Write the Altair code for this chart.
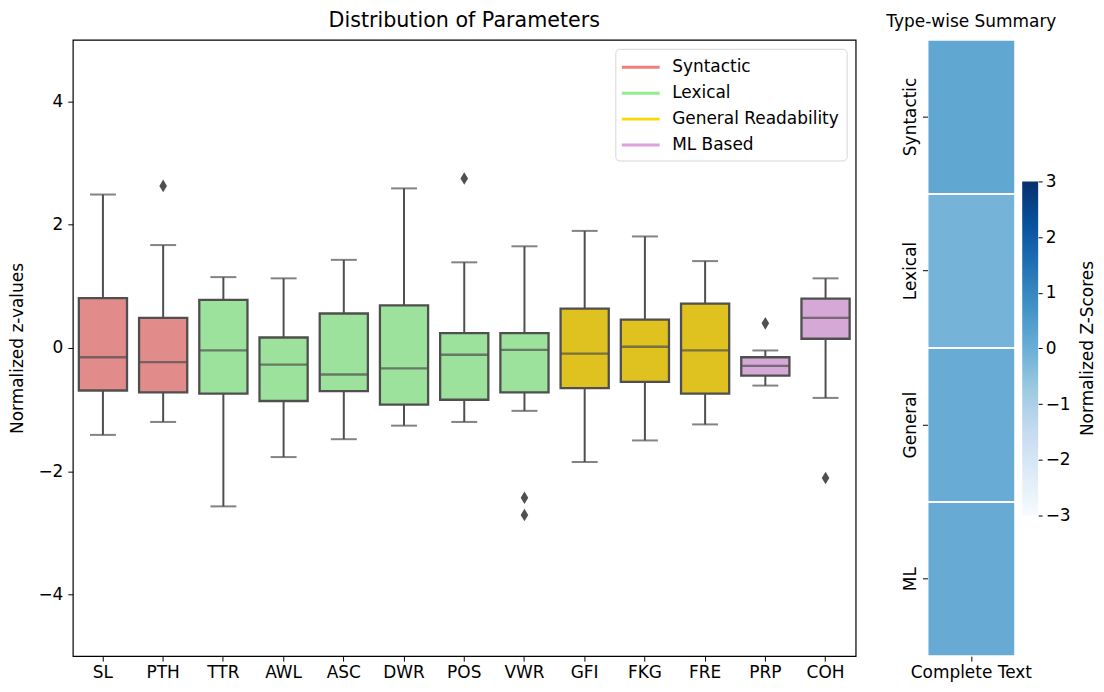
import altair as alt
import pandas as pd

# ---- data ----
cats = ["SL", "PTH", "TTR", "AWL", "ASC", "DWR", "POS", "VWR", "GFI", "FKG", "FRE", "PRP", "COH"]
types = ["Syntactic", "Syntactic",
         "Lexical", "Lexical", "Lexical", "Lexical", "Lexical", "Lexical",
         "General Readability", "General Readability", "General Readability",
         "ML Based", "ML Based"]
lower = [-1.41, -1.20, -2.57, -1.77, -1.48, -1.26, -1.20, -1.02, -1.85, -1.50, -1.24, -0.61, -0.81]
q1 = [-0.69, -0.72, -0.74, -0.86, -0.70, -0.92, -0.84, -0.72, -0.65, -0.55, -0.74, -0.45, 0.15]
median = [-0.15, -0.23, -0.04, -0.27, -0.43, -0.33, -0.11, -0.03, -0.09, 0.02, -0.04, -0.29, 0.49]
q3 = [0.81, 0.49, 0.78, 0.17, 0.56, 0.69, 0.24, 0.24, 0.64, 0.46, 0.72, -0.15, 0.80]
upper = [2.49, 1.67, 1.15, 1.13, 1.43, 2.59, 1.39, 1.65, 1.90, 1.81, 1.41, -0.04, 1.13]

outlier_cats = ["PTH", "POS", "VWR", "VWR", "PRP", "COH"]
outlier_vals = [2.63, 2.75, -2.43, -2.71, 0.40, -2.11]

type_names = ["Syntactic", "Lexical", "General Readability", "ML Based"]
legend_colors = ["#F08080", "#90EE90", "#FFD700", "#DDA0DD"]
fill_colors = ["#e18b8b", "#9ce29c", "#dfc120", "#d5a8d5"]

summary_rows = ["Syntactic", "Lexical", "General", "ML"]
summary_cols = ["Complete Text"] * 4
summary_vals = [0.20, -0.15, 0.05, 0.07]

cbar_lo = [-3]
cbar_hi = [3]
cbar_ticks = [-3, -2, -1, 0, 1, 2, 3]

blues = ["#f7fbff", "#deebf7", "#c6dbef", "#9ecae1", "#6baed6",
         "#4292c6", "#2171b5", "#08519c", "#08306b"]
blues_domain = [-3 + 0.75 * i for i in range(9)]

# ---- tables ----
fill_map = dict(zip(type_names, fill_colors))
df = pd.DataFrame({"cat": cats, "type": types, "lower": lower, "q1": q1,
                   "median": median, "q3": q3, "upper": upper})
df["fillc"] = df["type"].map(fill_map)
out_df = pd.DataFrame({"cat": outlier_cats, "val": outlier_vals})
sum_df = pd.DataFrame({"row": summary_rows, "col": summary_cols, "z": summary_vals})
cbar_df = pd.DataFrame({"lo": cbar_lo, "hi": cbar_hi})

EDGE = "#4f4f4f"
FS = 17
H = 618
minus_expr = "replace(datum.label, '-', '\u2212')"

xenc = alt.X("cat:N", sort=cats, title=None,
             scale=alt.Scale(paddingInner=0.2, paddingOuter=0.1),
             axis=alt.Axis(labelAngle=0, labelFontSize=FS, tickSize=5,
                           labelPadding=3, domain=False))
yscale = alt.Scale(domain=[-5, 5], nice=False, zero=False)
yaxis = alt.Axis(values=[-4, -2, 0, 2, 4], title="Normalized z-values",
                 titleFontSize=FS, titleFontWeight="normal", labelFontSize=FS,
                 tickSize=5, grid=False, domain=False, labelExpr=minus_expr,
                 labelPadding=5, titlePadding=11)

base = alt.Chart(df)

whisk_lo = base.mark_rule(color=EDGE, strokeWidth=2).encode(
    x=xenc, y=alt.Y("lower:Q", scale=yscale, axis=yaxis), y2="q1:Q")
whisk_hi = base.mark_rule(color=EDGE, strokeWidth=2).encode(
    x=xenc, y=alt.Y("q3:Q", scale=yscale, axis=yaxis), y2="upper:Q")
caps_lo = base.mark_tick(color=EDGE, size=26, thickness=2).encode(
    x=xenc, y=alt.Y("lower:Q", scale=yscale, axis=yaxis))
caps_hi = base.mark_tick(color=EDGE, size=26, thickness=2).encode(
    x=xenc, y=alt.Y("upper:Q", scale=yscale, axis=yaxis))
boxes = base.mark_bar(stroke=EDGE, strokeWidth=2.3).encode(
    x=xenc, y=alt.Y("q1:Q", scale=yscale, axis=yaxis), y2="q3:Q",
    fill=alt.Fill("fillc:N", scale=None))
medians = base.mark_tick(color=EDGE, size=48, thickness=2.3).encode(
    x=xenc, y=alt.Y("median:Q", scale=yscale, axis=yaxis))
legend_layer = base.mark_tick(strokeWidth=0, thickness=0, size=1).encode(
    x=xenc, y=alt.Y("median:Q", scale=yscale, axis=yaxis),
    stroke=alt.Stroke("type:N", scale=alt.Scale(domain=type_names, range=legend_colors),
                      legend=alt.Legend(title=None, orient="top-right", offset=9,
                                        symbolType="M-1.9,0H1.9", symbolStrokeWidth=3,
                                        symbolSize=400, symbolOpacity=1,
                                        symbolOffset=7, labelOffset=20,
                                        labelFontSize=FS, labelLimit=400,
                                        rowPadding=6,
                                        strokeColor="#d6d6d6", cornerRadius=4,
                                        fillColor="white", padding=7)))
outliers = alt.Chart(out_df).mark_point(
    shape="M0,-1L0.6,0L0,1L-0.6,0Z", filled=True, color=EDGE, size=160, opacity=1
).encode(x=xenc, y=alt.Y("val:Q", scale=yscale, axis=yaxis))

box_chart = alt.layer(whisk_lo, whisk_hi, caps_lo, caps_hi, boxes, medians,
                      outliers, legend_layer).properties(
    width=785, height=H,
    title=alt.Title("Distribution of Parameters", fontSize=20.7, fontWeight="normal",
                    offset=8),
    view=alt.ViewBackground(stroke="black", strokeWidth=1.2))

heat = alt.Chart(sum_df).mark_rect(stroke="white", strokeWidth=2).encode(
    x=alt.X("col:N", title=None,
            axis=alt.Axis(labelAngle=0, labelFontSize=FS, tickSize=5, domain=False,
                          labelPadding=3)),
    y=alt.Y("row:N", sort=summary_rows, title=None,
            axis=alt.Axis(labelAngle=-90, labelAlign="center", labelBaseline="bottom",
                          labelFontSize=FS, tickSize=5, domain=False, labelPadding=3)),
    color=alt.Color("z:Q", scale=alt.Scale(domain=blues_domain, range=blues),
                    legend=None)
).properties(
    width=88, height=H,
    title=alt.Title("Type-wise Summary", fontSize=FS, fontWeight="normal", offset=8),
    view=alt.ViewBackground(strokeWidth=0))

# colour bar: a gradient-filled rect spanning -3..3 on its own axis
n = len(blues)
grad = alt.Gradient(gradient="linear",
                    stops=[alt.GradientStop(color=c, offset=i / (n - 1)) for i, c in enumerate(blues)],
                    x1=0, x2=0, y1=1, y2=0)
cbar = alt.Chart(cbar_df).mark_rect(fill=grad).encode(
    y=alt.Y("lo:Q", scale=alt.Scale(domain=[-5.526, 5.543], nice=False, zero=False),
            axis=alt.Axis(orient="right", values=cbar_ticks, labelExpr=minus_expr,
                          labelFontSize=FS, tickSize=4, domain=False, grid=False,
                          labelPadding=3,
                          title="Normalized Z-Scores", titleFontSize=FS,
                          titleFontWeight="normal", titleAngle=270,
                          titleBaseline="top", titlePadding=9)),
    y2="hi:Q"
).properties(width=16, height=H, view=alt.ViewBackground(strokeWidth=0))

right = alt.hconcat(heat, cbar, spacing=7, bounds="flush")

chart = alt.hconcat(box_chart, right, spacing=72, bounds="flush").resolve_scale(
    stroke="independent"
).properties(
    padding={"left": 0, "top": 0, "right": 0, "bottom": 0}
).configure(font="DejaVu Sans").configure_axis(
    labelColor="black", tickColor="black", titleColor="black",
    labelFont="DejaVu Sans", titleFont="DejaVu Sans"
).configure_legend(labelColor="black", titleColor="black",
                   labelFont="DejaVu Sans", titleFont="DejaVu Sans"
).configure_title(color="black", font="DejaVu Sans")

chart.save("out.html", embed_options={"renderer": "svg", "actions": False})
